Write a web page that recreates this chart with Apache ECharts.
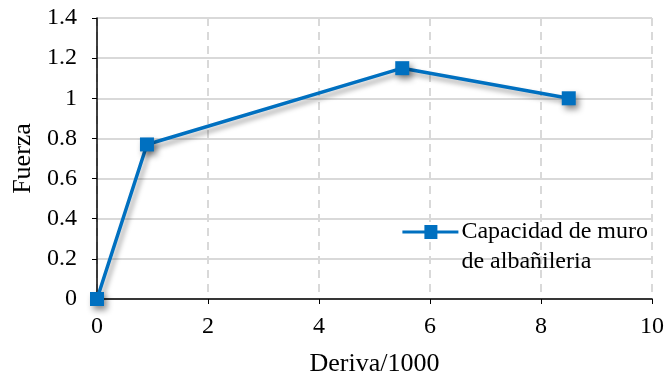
<!DOCTYPE html>
<html><head><meta charset="utf-8">
<script src="https://cdn.jsdelivr.net/npm/echarts@6/dist/echarts.min.js"></script>
<style>html,body{margin:0;padding:0;background:#fff}#c{width:665px;height:378px}</style>
</head><body><div id="c"></div>
<script>
const seriesName = 'Capacidad de muro de albañileria';
const deriva = [0, 0.9, 5.5, 8.5];
const fuerza = [0, 0.77, 1.15, 1.0];
const xTitle = 'Deriva/1000';
const yTitle = 'Fuerza';

const font = '"Liberation Serif", "Times New Roman", serif';
const chart = echarts.init(document.getElementById('c'));
chart.setOption({
  animation: false,
  grid: {left: 97, right: 13, top: 18, bottom: 79, containLabel: false, outerBoundsMode: 'none'},
  legend: {
    data: [seriesName], right: 17, top: 187, padding: 0, itemWidth: 56, itemHeight: 14, itemGap: 0,
    formatter: () => '\nCapacidad de muro\nde albañileria',
    textStyle: {fontFamily: font, fontSize: 24, color: '#000', lineHeight: 30, padding: [0, 0, 0, -2]},
    icon: 'path://M0,5.5 L22,5.5 L22,0 L35,0 L35,5.5 L56,5.5 L56,8.5 L35,8.5 L35,14 L22,14 L22,8.5 L0,8.5 Z'
  },
  xAxis: {
    type: 'value', min: 0, max: 10, interval: 2,
    name: xTitle, nameLocation: 'middle', nameGap: 52,
    nameTextStyle: {fontFamily: font, fontSize: 26, color: '#000'},
    axisLine: {lineStyle: {color: '#000', width: 1.5}},
    axisTick: {show: true, inside: false, length: 5, lineStyle: {color: '#000'}},
    axisLabel: {fontFamily: font, fontSize: 24, color: '#000', margin: 16},
    splitLine: {show: true, lineStyle: {color: '#d9d9d9', width: 2, type: [8, 6]}}
  },
  yAxis: {
    type: 'value', min: 0, max: 1.4, interval: 0.2,
    name: yTitle, nameLocation: 'middle', nameGap: 57, nameRotate: 90,
    nameTextStyle: {fontFamily: font, fontSize: 26, color: '#000'},
    axisLine: {show: true, lineStyle: {color: '#000', width: 1.5}},
    axisTick: {show: true, inside: false, length: 5, lineStyle: {color: '#000'}},
    axisLabel: {fontFamily: font, fontSize: 24, color: '#000', margin: 20,
      formatter: v => String(Math.round(v * 10) / 10)},
    splitLine: {show: true, lineStyle: {color: '#d9d9d9', width: 2}}
  },
  series: [{
    name: seriesName, type: 'line',
    data: deriva.map((x, i) => [x, fuerza[i]]),
    symbol: 'rect', symbolSize: 14,
    lineStyle: {color: '#0070C0', width: 3.5, shadowColor: 'rgba(0,0,0,0.35)', shadowBlur: 5, shadowOffsetX: 3, shadowOffsetY: 4},
    itemStyle: {color: '#0070C0', shadowColor: 'rgba(0,0,0,0.45)', shadowBlur: 6, shadowOffsetX: 3, shadowOffsetY: 4}
  }]
});
</script></body></html>
